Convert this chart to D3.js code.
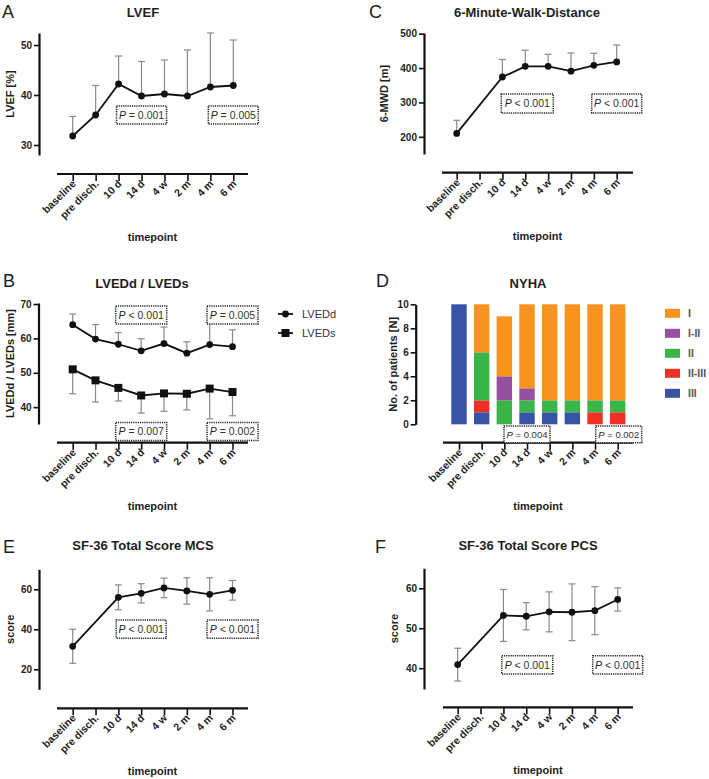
<!DOCTYPE html>
<html><head><meta charset="utf-8">
<script src="https://cdn.jsdelivr.net/npm/d3@7"></script>
<style>
body{margin:0;background:#fff}
text{font-family:"Liberation Sans",Arial,Helvetica,sans-serif}
</style>
</head><body>
<svg id="c" width="709" height="779"></svg>
<script>
// ---------- DATA ----------
const timepoints = ["baseline","pre disch.","10 d","14 d","4 w","2 m","4 m","6 m"];

// A: LVEF [%] mean and upper end of error bar
const lvefMean  = [31.8, 36.0, 42.2, 39.8, 40.2, 39.8, 41.6, 41.9];
const lvefUpper = [35.7, 41.9, 47.8, 46.7, 47.0, 49.0, 52.4, 51.0];
const lvefTicks = [30, 40, 50];
const lvefP = ["= 0.001", "= 0.005"];

// C: 6-MWD [m]
const mwdMean  = [210, null, 374, 405, 405, 391, 408, 418];
const mwdUpper = [248, null, 425, 452, 440, 444, 443, 467];
const mwdTicks = [200, 300, 400, 500];
const mwdP = ["< 0.001", "< 0.001"];

// B: LVEDd / LVEDs [mm]
const lveddMean  = [64.0, 59.8, 58.3, 56.4, 58.5, 55.7, 58.2, 57.6];
const lveddUpper = [67.1, 64.0, 61.7, 59.9, 63.3, 59.0, 64.5, 62.5];
const lvedsMean  = [51.0, 47.8, 45.6, 43.4, 44.0, 43.9, 45.4, 44.4];
const lvedsLower = [43.9, 41.5, 41.8, 38.3, 38.8, 39.2, 36.6, 37.5];
const lvedTicks = [40, 50, 60, 70];
const lveddP = ["< 0.001", "= 0.005"];
const lvedsP = ["= 0.007", "= 0.002"];

// D: NYHA class counts (stack order bottom -> top)
const nyhaClasses = ["III", "II-III", "II", "I-II", "I"];
const nyhaIII   = [10, 1, 0, 1, 1, 1, 0, 0];
const nyhaII_III= [0, 1, 0, 0, 0, 0, 1, 1];
const nyhaII    = [0, 4, 2, 1, 1, 1, 1, 1];
const nyhaI_II  = [0, 0, 2, 1, 0, 0, 0, 0];
const nyhaI     = [0, 4, 5, 7, 8, 8, 8, 8];
const nyhaColors = ["#3953a4", "#ed3124", "#3ab54a", "#9650a0", "#f7931e"];
const nyhaTicks = [0, 2, 4, 6, 8, 10];
const nyhaP = ["= 0.004", "= 0.002"];

// E: SF-36 MCS
const mcsMean = [31.5, null, 56.0, 58.0, 60.7, 59.2, 57.5, 59.5];
const mcsSD   = [8.5, null, 6.2, 4.8, 4.9, 6.6, 8.3, 4.9];
const mcsTicks = [20, 40, 60];
const mcsP = ["< 0.001", "< 0.001"];

// F: SF-36 PCS
const pcsMean = [40.9, null, 53.2, 53.0, 54.1, 54.0, 54.4, 57.2];
const pcsSD   = [4.1, null, 6.5, 3.4, 5.0, 7.1, 6.0, 2.9];
const pcsTicks = [40, 50, 60];
const pcsP = ["< 0.001", "< 0.001"];

// ---------- DRAW ----------
const svg = d3.select("#c");
svg.append("rect").attr("width",709).attr("height",779).attr("fill","#fff");
const TXT = "#1e1e1e";

function frame(cfg){
  const g = svg.append("g");
  const x = d3.scalePoint().domain(timepoints).range([cfg.x0, cfg.x1]);
  const y = d3.scaleLinear().domain(cfg.domain).range([cfg.bottom, cfg.top]);
  g.append("text").attr("x",cfg.letterX).attr("y",cfg.letterY).text(cfg.letter)
    .attr("font-size",18).attr("fill",TXT);
  g.append("text").attr("x",cfg.titleX).attr("y",cfg.titleY).attr("dy","0.35em")
    .attr("text-anchor","middle").attr("font-size",13).attr("font-weight","bold")
    .attr("fill",TXT).text(cfg.title);
  const ya = g.append("g").attr("transform",`translate(${cfg.left},0)`)
    .call(d3.axisLeft(y).tickValues(cfg.ticks).tickSize(5).tickSizeOuter(0).tickPadding(2));
  ya.select(".domain").attr("stroke","#111").attr("stroke-width",2.2);
  ya.selectAll(".tick line").attr("stroke","#111").attr("stroke-width",1.6);
  ya.selectAll(".tick text").attr("font-size",10).attr("font-weight","bold").attr("fill",TXT);
  g.append("text").attr("transform",`translate(${cfg.ylabelX},${(cfg.top+cfg.bottom)/2}) rotate(-90)`)
    .attr("dy","0.35em").attr("text-anchor","middle").attr("font-size",11).attr("font-weight","bold")
    .attr("fill",TXT).text(cfg.ylabel);
  const xa = g.append("g").attr("transform",`translate(0,${cfg.axisY})`)
    .call(d3.axisBottom(x).tickSize(7).tickSizeOuter(0));
  xa.select(".domain").remove();
  xa.append("line").attr("x1",cfg.axisL).attr("x2",cfg.axisR).attr("stroke","#111").attr("stroke-width",2.2);
  xa.selectAll(".tick line").attr("stroke","#111").attr("stroke-width",1.6);
  xa.selectAll(".tick text").attr("font-size",10.5).attr("font-weight","bold").attr("fill",TXT)
    .attr("text-anchor","end").attr("x",-5).attr("y",6).attr("dy","0.35em")
    .attr("transform","rotate(-45)");
  g.append("text").attr("x",(cfg.axisL+cfg.axisR)/2).attr("y",cfg.axisY+63).attr("dy","0.35em")
    .attr("text-anchor","middle").attr("font-size",11).attr("font-weight","bold").attr("fill",TXT)
    .text("timepoint");
  return {g,x,y};
}

function pbox(g, cx, yTop, w, h, txt, fs){
  const b = g.append("g");
  b.append("rect").attr("x",cx-w/2).attr("y",yTop).attr("width",w).attr("height",h)
    .attr("fill","#fff").attr("stroke","#222").attr("stroke-width",1.5).attr("stroke-dasharray","1.2,1");
  const t = b.append("text").attr("x",cx).attr("y",yTop+h/2).attr("dy","0.36em")
    .attr("text-anchor","middle").attr("font-size",fs||10.5).attr("fill","#333");
  t.append("tspan").attr("font-style","italic").attr("fill","#222").text("P");
  t.append("tspan").text(" " + txt);
}

function errorBars(g, x, y, mean, lo, hi){
  const cap = 3.5;
  timepoints.forEach((t,i)=>{
    if(mean[i]==null) return;
    const cx = x(t);
    const a = lo ? lo[i] : mean[i], b = hi ? hi[i] : mean[i];
    g.append("line").attr("x1",cx).attr("x2",cx).attr("y1",y(a)).attr("y2",y(b))
      .attr("stroke","#8a8a8a").attr("stroke-width",1.2);
    if(hi) g.append("line").attr("x1",cx-cap).attr("x2",cx+cap).attr("y1",y(b)).attr("y2",y(b))
      .attr("stroke","#8a8a8a").attr("stroke-width",1.2);
    if(lo) g.append("line").attr("x1",cx-cap).attr("x2",cx+cap).attr("y1",y(a)).attr("y2",y(a))
      .attr("stroke","#8a8a8a").attr("stroke-width",1.2);
  });
}

function lineSeries(g, x, y, mean, shape){
  const pts = timepoints.map((t,i)=>({t,v:mean[i]})).filter(d=>d.v!=null);
  g.append("path").datum(pts).attr("fill","none").attr("stroke","#111").attr("stroke-width",1.8)
    .attr("d", d3.line().x(d=>x(d.t)).y(d=>y(d.v)));
  if(shape==="square"){
    g.selectAll(null).data(pts).enter().append("rect")
      .attr("x",d=>x(d.t)-4).attr("y",d=>y(d.v)-4).attr("width",8).attr("height",8).attr("fill","#111");
  } else {
    g.selectAll(null).data(pts).enter().append("circle")
      .attr("cx",d=>x(d.t)).attr("cy",d=>y(d.v)).attr("r",3.4).attr("fill","#111");
  }
}

// ---- A ----
{
  const {g,x,y} = frame({letter:"A",letterX:2,letterY:18,title:"LVEF",titleX:143,titleY:12,
    left:39,top:33,bottom:155,domain:[28,52.4],ticks:lvefTicks,ylabel:"LVEF [%]",ylabelX:10,
    axisY:174,x0:72.7,x1:233.3,axisL:57,axisR:248});
  errorBars(g,x,y,lvefMean,null,lvefUpper);
  lineSeries(g,x,y,lvefMean,"circle");
  pbox(g,x("14 d"),106,50,18,lvefP[0]);
  pbox(g,x("6 m"),106,50,18,lvefP[1]);
}
// ---- C ----
{
  const {g,x,y} = frame({letter:"C",letterX:369,letterY:18,title:"6-Minute-Walk-Distance",titleX:527,titleY:12,
    left:424,top:33,bottom:154,domain:[150,502],ticks:mwdTicks,ylabel:"6-MWD [m]",ylabelX:384,
    axisY:172.7,x0:456.7,x1:616.7,axisL:442,axisR:633});
  errorBars(g,x,y,mwdMean,null,mwdUpper);
  lineSeries(g,x,y,mwdMean,"circle");
  pbox(g,x("14 d")+2,94,52,19,mwdP[0]);
  pbox(g,x("6 m"),94,50,19,mwdP[1]);
}
// ---- B ----
{
  const {g,x,y} = frame({letter:"B",letterX:3,letterY:287,title:"LVEDd / LVEDs",titleX:142,titleY:283,
    left:38.5,top:303,bottom:424,domain:[35.1,70.3],ticks:lvedTicks,ylabel:"LVEDd / LVEDs [mm]",ylabelX:10,
    axisY:442.7,x0:72.7,x1:232.5,axisL:57,axisR:248});
  errorBars(g,x,y,lveddMean,null,lveddUpper);
  errorBars(g,x,y,lvedsMean,lvedsLower,null);
  lineSeries(g,x,y,lveddMean,"circle");
  lineSeries(g,x,y,lvedsMean,"square");
  pbox(g,x("14 d"),306,51,18,lveddP[0]);
  pbox(g,x("6 m"),306,51,18,lveddP[1]);
  pbox(g,x("14 d"),422.5,51,18,lvedsP[0]);
  pbox(g,x("6 m"),422.5,51,18,lvedsP[1]);
  const lg = svg.append("g");
  [["LVEDd","circle",314],["LVEDs","square",333]].forEach(([lab,sh,ly])=>{
    lg.append("line").attr("x1",278).attr("x2",293).attr("y1",ly).attr("y2",ly).attr("stroke","#111").attr("stroke-width",1.8);
    if(sh==="circle") lg.append("circle").attr("cx",285.5).attr("cy",ly).attr("r",3.4).attr("fill","#111");
    else lg.append("rect").attr("x",281.5).attr("y",ly-4).attr("width",8).attr("height",8).attr("fill","#111");
    lg.append("text").attr("x",302).attr("y",ly).attr("dy","0.36em").attr("font-size",11).attr("fill","#333").text(lab);
  });
}
// ---- D ----
{
  const {g,x,y} = frame({letter:"D",letterX:376,letterY:287,title:"NYHA",titleX:528,titleY:283,
    left:415.7,top:304.3,bottom:424.3,domain:[0,10],ticks:nyhaTicks,ylabel:"No. of patients [N]",ylabelX:393,
    axisY:442.7,x0:459,x1:617.7,axisL:443,axisR:633});
  const cols = [nyhaIII, nyhaII_III, nyhaII, nyhaI_II, nyhaI];
  const rows = timepoints.map((t,i)=>{const r={t}; nyhaClasses.forEach((c,k)=>r[c]=cols[k][i]); return r;});
  const stacked = d3.stack().keys(nyhaClasses)(rows);
  const bw = 15.4;
  stacked.forEach((layer,k)=>{
    g.selectAll(null).data(layer.filter(d=>d[1]>d[0])).enter().append("rect")
      .attr("x",d=>x(d.data.t)-bw/2).attr("width",bw)
      .attr("y",d=>y(d[1])).attr("height",d=>y(d[0])-y(d[1]))
      .attr("fill",nyhaColors[k]);
  });
  pbox(g,x("14 d"),426,46,16.7,nyhaP[0],9.5);
  pbox(g,x("6 m")+1,426,46,16.7,nyhaP[1],9.5);
  const lg = svg.append("g");
  nyhaClasses.slice().reverse().forEach((c,j)=>{
    const k = nyhaClasses.length-1-j;
    const ly = 313.3 + j*20;
    lg.append("rect").attr("x",665).attr("y",ly-4.5).attr("width",15).attr("height",9).attr("fill",nyhaColors[k]);
    lg.append("text").attr("x",688).attr("y",ly).attr("dy","0.36em").attr("font-size",10.5)
      .attr("font-weight","bold").attr("fill","#555").text(c);
  });
}
// ---- E ----
{
  const {g,x,y} = frame({letter:"E",letterX:3,letterY:553,title:"SF-36 Total Score MCS",titleX:143,titleY:545,
    left:39,top:569.3,bottom:689.3,domain:[10,70],ticks:mcsTicks,ylabel:"score",ylabelX:10,
    axisY:708.3,x0:72.7,x1:232.5,axisL:57,axisR:248});
  const lo = mcsMean.map((m,i)=>m==null?null:m-mcsSD[i]);
  const hi = mcsMean.map((m,i)=>m==null?null:m+mcsSD[i]);
  errorBars(g,x,y,mcsMean,lo,hi);
  lineSeries(g,x,y,mcsMean,"circle");
  pbox(g,x("14 d"),620,50,18.3,mcsP[0]);
  pbox(g,x("6 m"),620,51,18.3,mcsP[1]);
}
// ---- F ----
{
  const {g,x,y} = frame({letter:"F",letterX:375,letterY:553,title:"SF-36 Total Score PCS",titleX:528,titleY:545,
    left:424,top:568.3,bottom:689,domain:[34.8,65],ticks:pcsTicks,ylabel:"score",ylabelX:394,
    axisY:707.3,x0:457.7,x1:617.7,axisL:443,axisR:633});
  const lo = pcsMean.map((m,i)=>m==null?null:m-pcsSD[i]);
  const hi = pcsMean.map((m,i)=>m==null?null:m+pcsSD[i]);
  errorBars(g,x,y,pcsMean,lo,hi);
  lineSeries(g,x,y,pcsMean,"circle");
  pbox(g,x("14 d")+1,655.7,51,18.3,pcsP[0]);
  pbox(g,x("6 m"),655.7,50,18.3,pcsP[1]);
}
</script>
</body></html>
